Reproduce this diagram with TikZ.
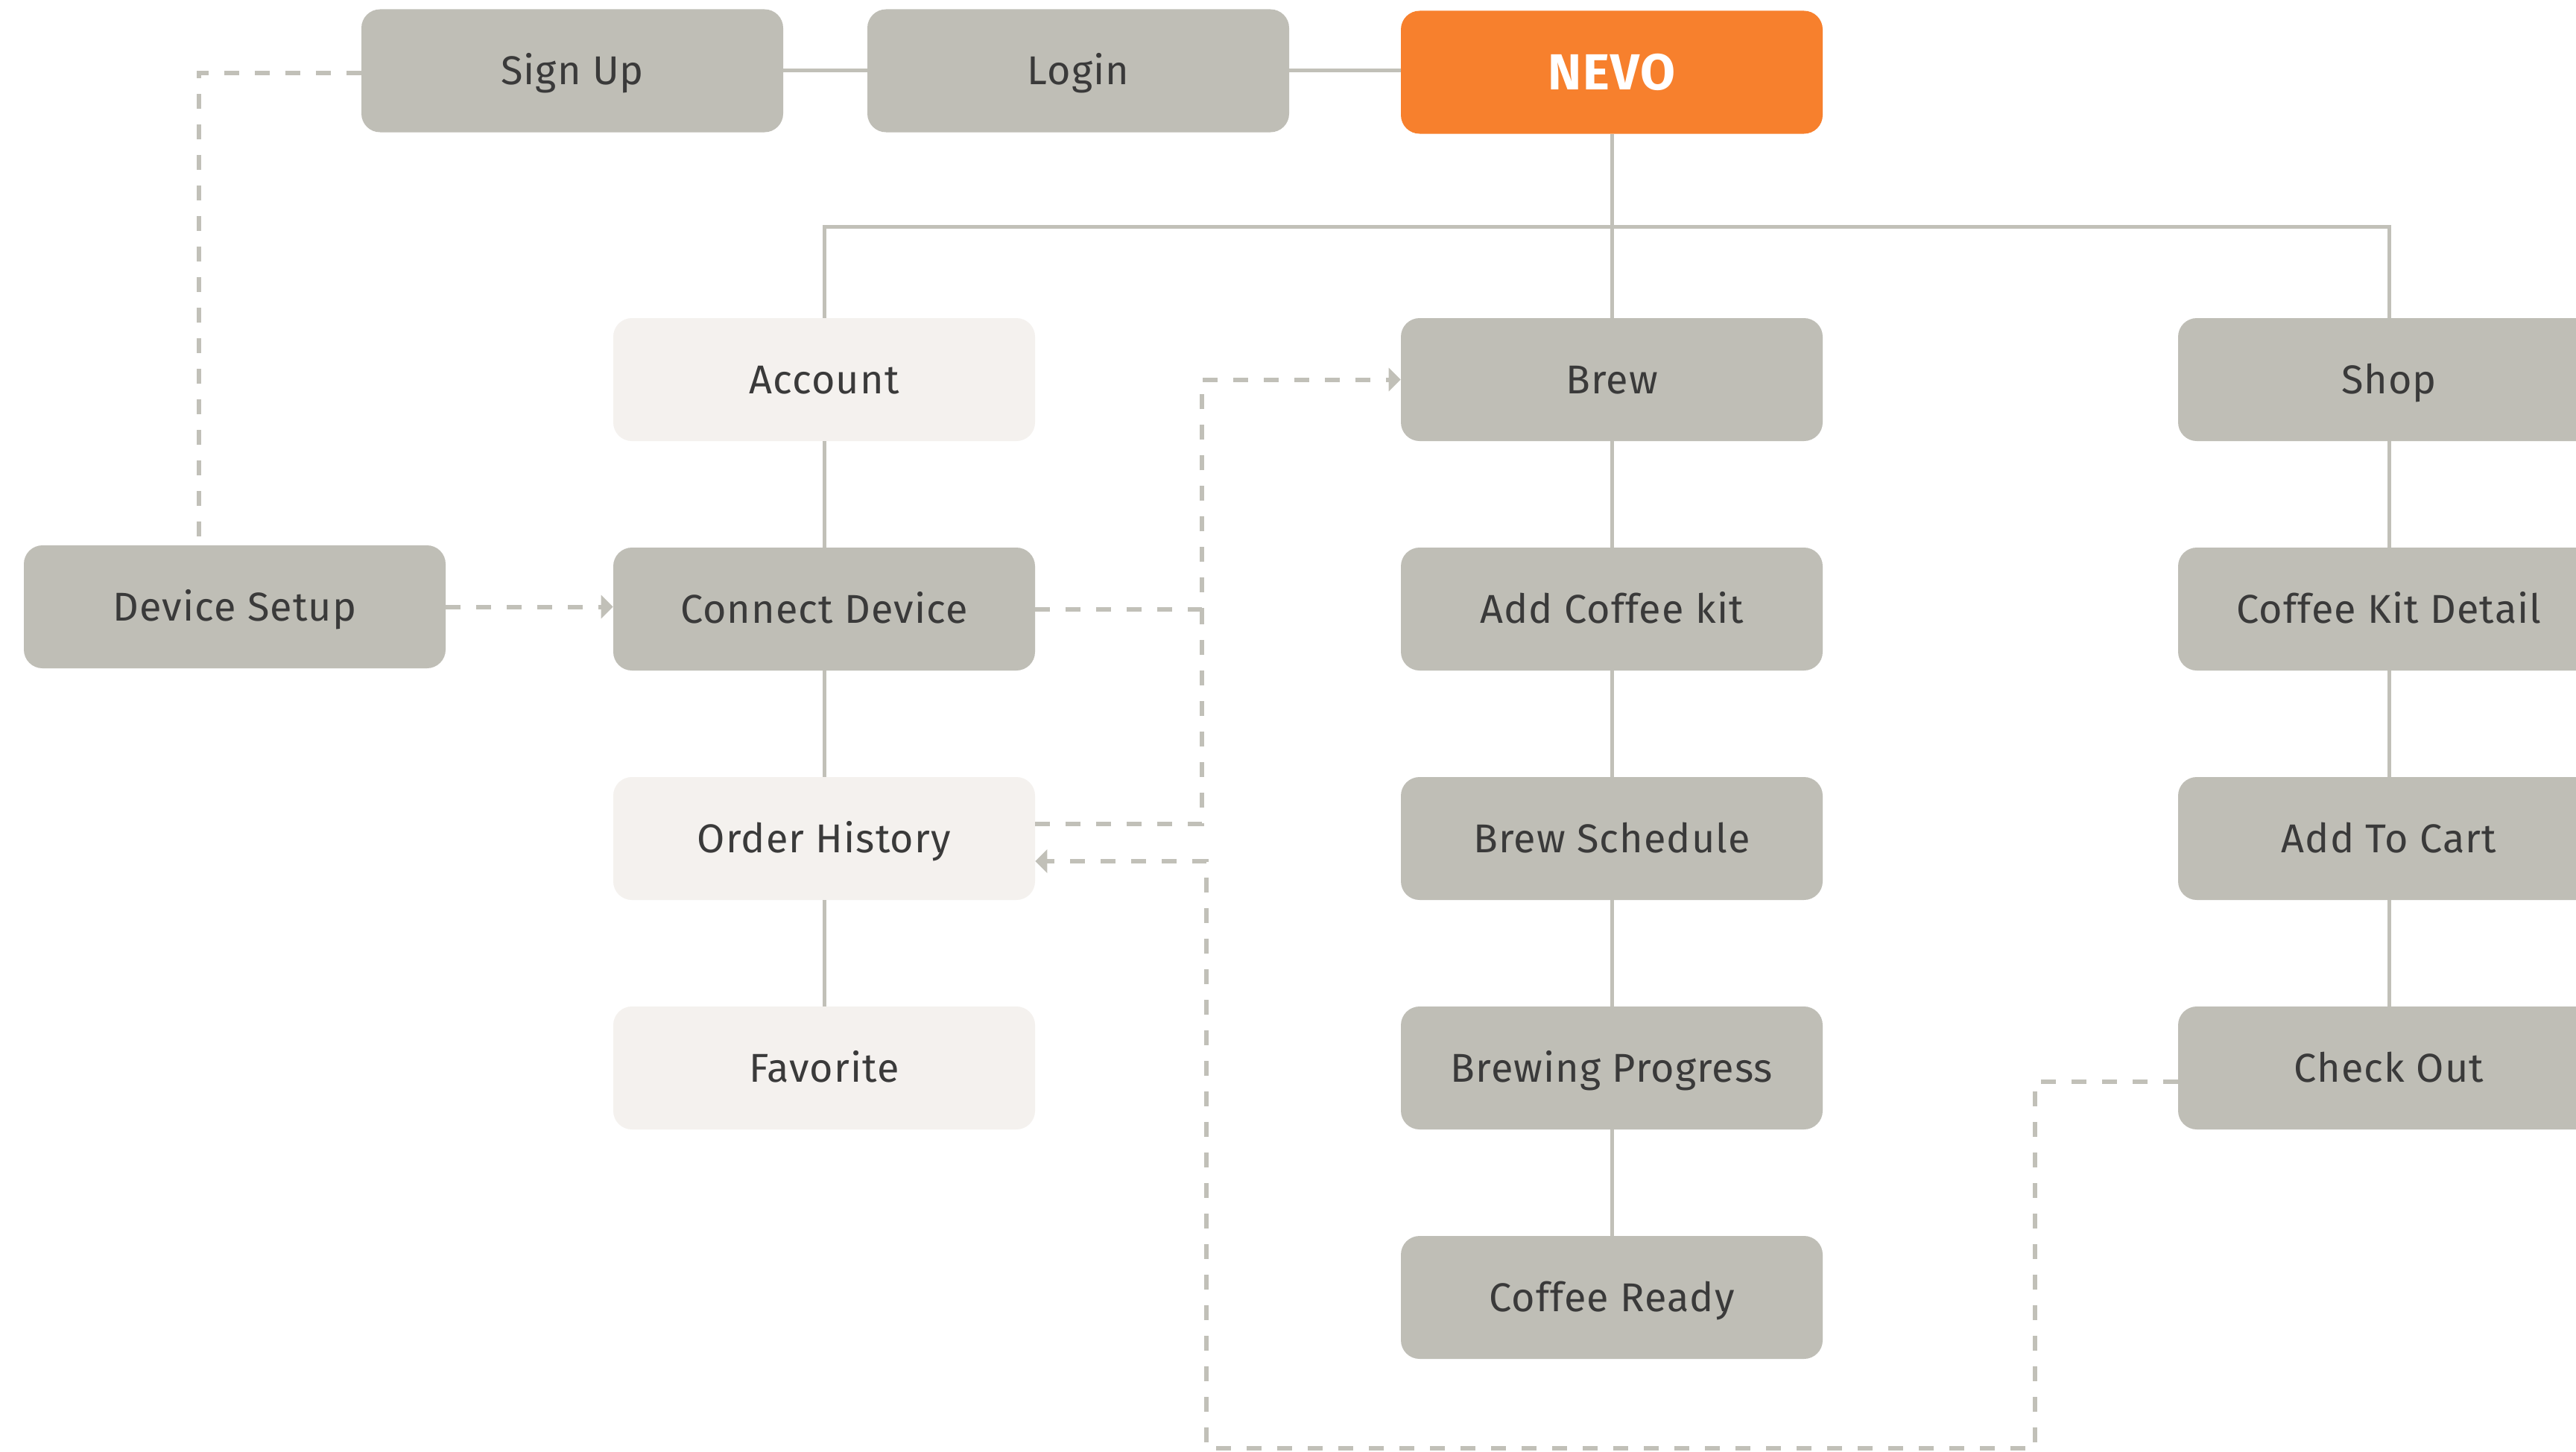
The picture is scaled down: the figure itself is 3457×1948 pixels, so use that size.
\documentclass[tikz,border=0pt]{standalone}
\usepackage{fontspec}
\setmainfont{Fira Sans}[LetterSpace=2]
\usetikzlibrary{arrows.meta,positioning,calc}
\definecolor{kavegray}{HTML}{BFBEB6}
\definecolor{kavelite}{HTML}{F4F1EE}
\definecolor{kaveline}{HTML}{C1C0B8}
\definecolor{kaveorange}{HTML}{F7802D}
\definecolor{kavetext}{HTML}{3A3A3A}
\tikzset{
  scr/.style={rectangle,rounded corners=12.5pt,fill=kavegray,minimum width=283pt,
    minimum height=82.5pt,inner sep=0pt,text=kavetext,text height=18.6pt,text depth=0pt,
    font=\fontsize{27}{32}\selectfont},
  scrlite/.style={scr,fill=kavelite},
  root/.style={scr,fill=kaveorange,text=white,text height=23.4pt,
    font=\fontsize{34}{40}\selectfont\bfseries},
  tie/.style={draw=kaveline,line width=2.5pt},
  hop/.style={draw=kaveline,line width=3pt,dash pattern=on 10pt off 10.5pt},
  hoparr/.style={hop,-{Triangle[length=8pt,width=15.5pt]}},
}
\begin{document}
\begin{tikzpicture}[x=0.5pt,y=-0.5pt]
  \useasboundingbox (0,0) rectangle (3457,1948);
  \fill[white] (0,0) rectangle (3457,1948);
  \node[scr] (signup) at (768,95) {Sign Up};
  \node[scr] (login) at (1447,95) {Login};
  \node[root] (nevo) at (2163,97) {NEVO};
  \node[scr] (devsetup) at (315,814.5) {Device Setup};
  \node[scrlite] (account) at (1106,509.5) {Account};
  \node[scr] (connect) at (1106,817.5) {Connect Device};
  \node[scrlite] (orderhist) at (1106,1125.5) {Order History};
  \node[scrlite] (favorite) at (1106,1433.5) {Favorite};
  \node[scr] (brew) at (2163,509.5) {Brew};
  \node[scr] (addkit) at (2163,817.5) {Add Coffee kit};
  \node[scr] (schedule) at (2163,1125.5) {Brew Schedule};
  \node[scr] (progress) at (2163,1433.5) {Brewing Progress};
  \node[scr] (ready) at (2163,1741.5) {Coffee Ready};
  \node[scr] (shop) at (3206,509.5) {Shop};
  \node[scr] (kitdetail) at (3206,817.5) {Coffee Kit Detail};
  \node[scr] (cart) at (3206,1125.5) {Add To Cart};
  \node[scr] (checkout) at (3206,1433.5) {Check Out};

  \coordinate (bar) at (2163,304);
  \draw[tie] (signup.east) -- (login.west);
  \draw[tie] (login.east) -- (login.east -| nevo.west);
  \draw[tie] (nevo.south) -- (brew.north);
  \draw[tie] (account.north) -- (account.north |- bar) -- (shop.north |- bar) -- (shop.north);
  \foreach \a/\b in {account/connect,connect/orderhist,orderhist/favorite,
    brew/addkit,addkit/schedule,schedule/progress,progress/ready,
    shop/kitdetail,kitdetail/cart,cart/checkout}
    \draw[tie] (\a.south) -- (\b.north);

  \coordinate (sgJ) at (267,98);
  \coordinate (upJ) at (1613,509.5);
  \coordinate (lowR) at (2731,1944);
  \coordinate (lowL) at (1619,1944);
  \draw[hop] (signup.west |- sgJ) -- (sgJ) -- (sgJ |- devsetup.north);
  \draw[hoparr] (devsetup.east) -- (devsetup.east -| connect.west);
  \draw[hoparr] (connect.east) -| (upJ) -- (brew.west);
  \draw[hop] ($(orderhist.east)+(0,-19.5)$) -| (connect.east -| upJ);
  \draw[hoparr] ($(checkout.west)+(0,18.5)$) -| (lowR) -- (lowL) |- ($(orderhist.east)+(0,30.5)$);
\end{tikzpicture}
\end{document}
